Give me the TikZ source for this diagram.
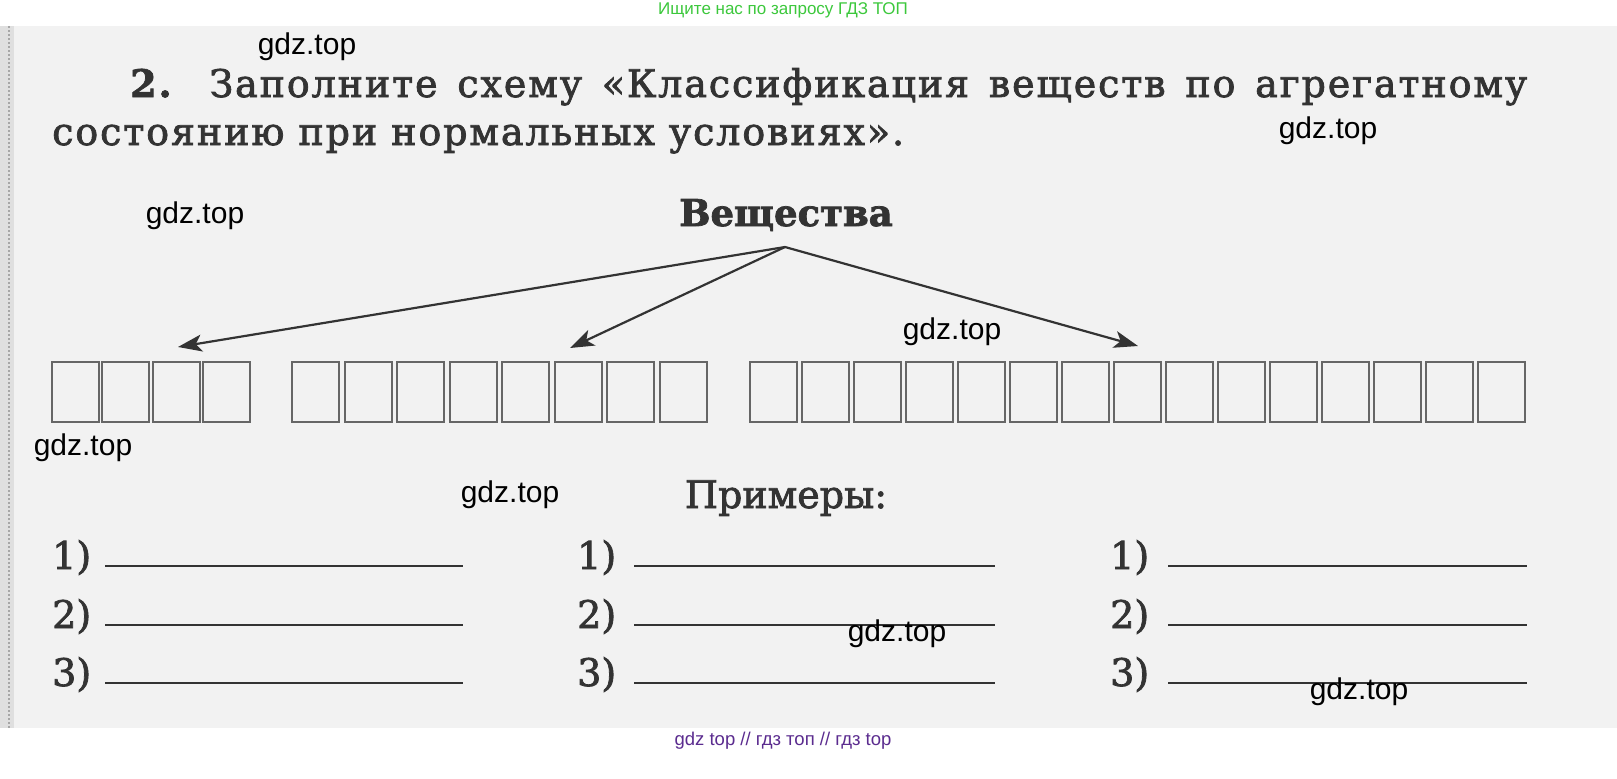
\documentclass[tikz,border=0pt]{standalone}
\usepackage{fontspec}
\setmainfont{DejaVu Serif}[FakeBold=2]
\newfontfamily\spacedfont{DejaVu Serif}[FakeBold=2, LetterSpace=5]
\newfontfamily\wmfont{Liberation Sans}
\usetikzlibrary{arrows.meta}

\definecolor{ink}{HTML}{333333}
\definecolor{paper}{HTML}{F2F2F2}
\definecolor{boxline}{HTML}{666666}
\definecolor{adgreen}{HTML}{3CC83C}
\definecolor{adviolet}{HTML}{5B2C8F}

\tikzset{
  titletext/.style={font=\spacedfont\fontsize{38}{40}\selectfont, text=ink, inner sep=0pt},
  headtext/.style={font=\bfseries\fontsize{37}{40}\selectfont, text=ink, inner sep=0pt},
  numtext/.style={font=\fontsize{38}{40}\selectfont, text=ink, inner sep=0pt},
  wm/.style={font=\wmfont\fontsize{30}{30}\selectfont, text=black, inner sep=0pt},
  adtext/.style={font=\wmfont\fontsize{17}{17}\selectfont, inner sep=0pt},
  letterbox/.style={draw=boxline, line width=2pt},
  answerline/.style={draw=ink, line width=2.8pt},
  branch/.style={draw=ink, line width=2.2pt, -{Stealth[length=24pt, width=17pt, inset=6pt]}}
}

\begin{document}
\begin{tikzpicture}[x=1pt, y=-1pt]
    \useasboundingbox (0,0) rectangle (1617,779);
    \fill[white] (0,0) rectangle (1617,779);
    % scanned page
    \fill[paper] (0,26) rectangle (1617,728);
    \fill[gray!25] (0,26) rectangle (14,728);
    \draw[gray!70, line width=2pt, dotted] (9,26) -- (9,728);

    \node[titletext, anchor=base west] (task) at (130,97) {\makebox[1397pt][s]{\textbf{2.} Заполните схему «Классификация веществ по агрегатному}};
    \node[titletext, anchor=base west] (task2) at (52,145) {состоянию при нормальных условиях».};

    \node[headtext, anchor=base] (subst) at (786,226) {Вещества};
    \coordinate (fork) at (785,247);
    \coordinate (tipA) at (178,347);
    \coordinate (tipB) at (570,348);
    \coordinate (tipC) at (1138,346);
    \draw[branch] (fork) -- (tipA);
    \draw[branch] (fork) -- (tipB);
    \draw[branch] (fork) -- (tipC);

    % letter boxes
    \foreach \i in {0,...,3}
        \draw[letterbox] ({52+\i*50.3},362) rectangle +(47,60);
    \foreach \i in {0,...,7}
        \draw[letterbox] ({292+\i*52.5},362) rectangle +(47,60);
    \foreach \i in {0,...,14}
        \draw[letterbox] ({750+\i*52},362) rectangle +(47,60);

    \node[titletext, font=\fontsize{38}{40}\selectfont, anchor=base] (examples) at (786,508) {Примеры:};

    \foreach \cx/\lx/\rx [count=\c] in {52/105/463, 577/634/995, 1110/1168/1527}
        \foreach \r/\ry in {1/566, 2/625, 3/683} {
            \node[numtext, anchor=base west] (ex\c\r) at (\cx,\ry+3) {\r)};
            \draw[answerline] (\lx,\ry) -- (\rx,\ry);
        }

    % watermarks
    \foreach \wx/\wy [count=\n] in {307/47, 1328/131, 195/216, 952/332, 83/448, 510/495, 897/634, 1359/692}
        \node[wm] (wm\n) at (\wx,\wy) {gdz.top};
    \node[adtext, text=adgreen] (adtop) at (783,10) {Ищите нас по запросу ГДЗ ТОП};
    \node[adtext, font=\wmfont\fontsize{18.5}{18.5}\selectfont, text=adviolet] (adbottom) at (783,741) {gdz top // гдз топ // гдз top};
\end{tikzpicture}
\end{document}
